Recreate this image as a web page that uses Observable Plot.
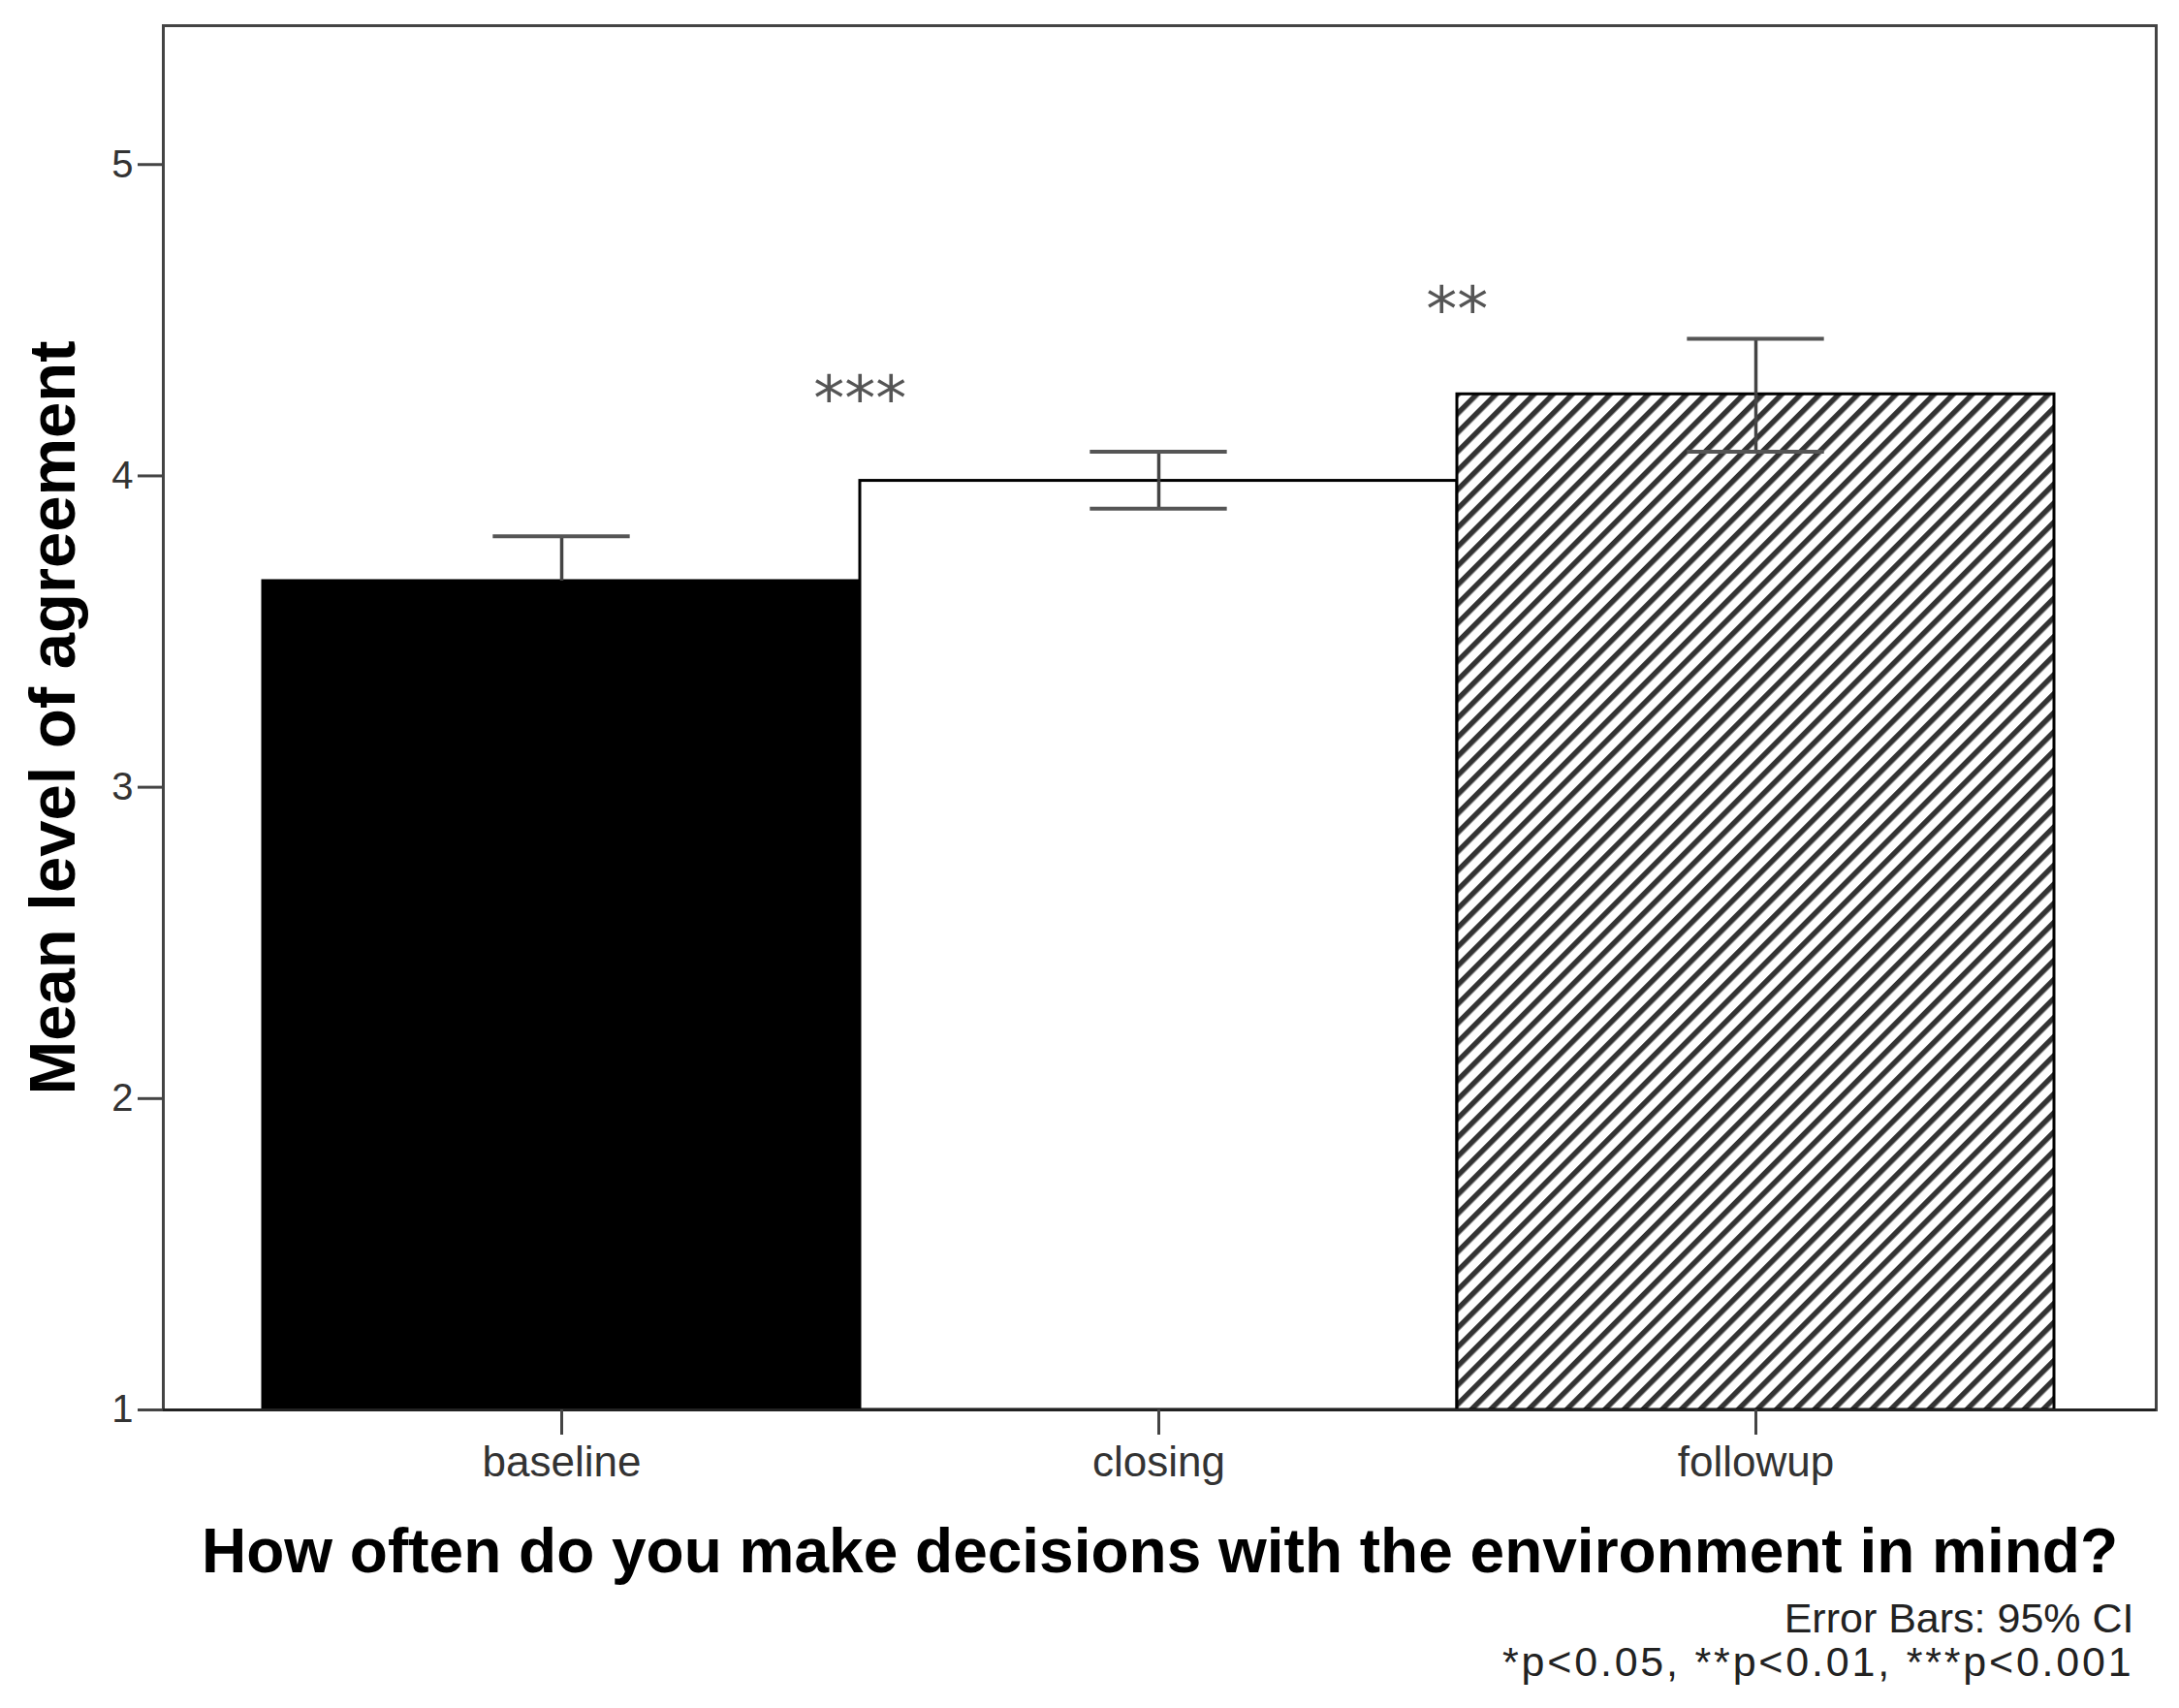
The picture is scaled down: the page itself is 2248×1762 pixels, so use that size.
<!DOCTYPE html>
<html>
<head>
<meta charset="utf-8">
<script src="https://cdn.jsdelivr.net/npm/d3@7"></script>
<script src="https://cdn.jsdelivr.net/npm/@observablehq/plot@0.6"></script>
<style>
  html, body { margin: 0; padding: 0; background: #fff; }
  #chart svg { display: block; }
</style>
</head>
<body>
<div id="chart"></div>
<script>
// ---- data ----
const categories = ["baseline", "closing", "followup"];
const means  = [3.662, 3.984, 4.262];
const ciLow  = [3.52, 3.895, 4.078];
const ciHigh = [3.806, 4.078, 4.44];
const yTicks = [1, 2, 3, 4, 5];
const sigLabels = ["***", "**"];
const sigRightOf = ["closing", "followup"]; // marker sits between this category and the one before it
const sigY = [4.30, 4.585];
const yTitle = "Mean level of agreement";
const xTitle = "How often do you make decisions with the environment in mind?";
const notes = ["Error Bars: 95% CI", "*p<0.05, **p<0.01, ***p<0.001"];

// ---- layout / style ----
const W = 2248, H = 1762;
const mL = 168, mR = 24, mT = 26, mB = 308;
const insL = 102, insR = 104;
const band = (W - mL - mR - insL - insR) / categories.length;
const fills = ["black", "white", "url(#hatch)"];
const darkBars = ["baseline"]; // error-bar parts inside a black bar vanish into it
const FONT = "'Liberation Sans', Arial, sans-serif";
const capInset = band / 2 - 71;

const rows = categories.map((c, i) => ({cat: c, mean: means[i], lo: ciLow[i], hi: ciHigh[i]}));
const lightRows = rows.filter(d => !darkBars.includes(d.cat));
const darkRows = rows.filter(d => darkBars.includes(d.cat));
const sig = sigLabels.map((s, i) => ({label: s, cat: sigRightOf[i], y: sigY[i]}));

const svg = Plot.plot({
  width: W, height: H,
  marginLeft: mL, marginRight: mR, marginTop: mT, marginBottom: mB,
  style: {fontFamily: FONT, background: "white", color: "#222"},
  x: {domain: categories, padding: 0, insetLeft: insL, insetRight: insR, label: null},
  y: {domain: [1, 5.446], label: null},
  color: {domain: categories, range: fills},
  marks: [
    Plot.barY(rows, {x: "cat", y1: 1, y2: "mean", fill: "cat", stroke: "black", strokeWidth: 3}),
    // upper halves of error bars
    Plot.ruleX(rows, {x: "cat", y1: "mean", y2: "hi", stroke: "#444", strokeWidth: 3.5}),
    Plot.tickY(rows, {x: "cat", y: "hi", stroke: "#555", strokeWidth: 4, insetLeft: capInset, insetRight: capInset}),
    // lower halves of error bars
    Plot.ruleX(lightRows, {x: "cat", y1: "lo", y2: "mean", stroke: "#444", strokeWidth: 3.5}),
    Plot.tickY(lightRows, {x: "cat", y: "lo", stroke: "#555", strokeWidth: 4, insetLeft: capInset, insetRight: capInset}),
    Plot.ruleX(darkRows, {x: "cat", y1: "lo", y2: "mean", stroke: "black", strokeWidth: 3.5}),
    Plot.tickY(darkRows, {x: "cat", y: "lo", stroke: "black", strokeWidth: 4, insetLeft: capInset, insetRight: capInset}),
    Plot.frame({stroke: "#444", strokeWidth: 3}),
    Plot.ruleY([1], {stroke: "#222", strokeWidth: 3}),
    Plot.axisY({ticks: yTicks, tickFormat: d => String(d), tickSize: 26, tickPadding: 5, fontSize: 40,
      stroke: "#444", strokeWidth: 3, fill: "#333", label: null}),
    Plot.axisX({tickSize: 26, tickPadding: 11, fontSize: 44, stroke: "#444", strokeWidth: 3, fill: "#333", label: null}),
    Plot.text(sig, {x: "cat", y: "y", text: "label", dx: -band / 2, dy: 38, lineAnchor: "bottom",
      fontSize: 64, fontFamily: "DejaVu Sans", fill: "#555"}),
    Plot.text([yTitle], {text: d => d, frameAnchor: "left", textAnchor: "middle", dx: -113, rotate: -90,
      fontSize: 67, fontWeight: "bold", fill: "black"}),
    Plot.text([xTitle], {text: d => d, frameAnchor: "bottom", textAnchor: "middle", dy: 122, lineAnchor: "top",
      fontSize: 64, fontWeight: "bold", fill: "black"}),
    Plot.text([notes[0]], {text: d => d, frameAnchor: "bottom-right", dx: -23, dy: 199, lineAnchor: "top",
      textAnchor: "end", fontSize: 43, fill: "#222"}),
    Plot.text([notes[1]], {text: d => d, frameAnchor: "bottom-right", dx: -23, dy: 244, lineAnchor: "top",
      textAnchor: "end", fontSize: 43, fill: "#222"})
  ]
});

// hatch pattern for the followup bar
const P = 13.9;
const defs = d3.select(svg).insert("defs", ":first-child");
const pat = defs.append("pattern")
  .attr("id", "hatch")
  .attr("patternUnits", "userSpaceOnUse")
  .attr("width", P).attr("height", P)
  .attr("patternTransform", "rotate(45)");
pat.append("rect").attr("width", P).attr("height", P).attr("fill", "white");
pat.append("rect").attr("x", 0).attr("width", 5.5).attr("height", P).attr("fill", "#333");

// the significance footnote is set wider in the reference
d3.select(svg).selectAll("text").filter(function () { return this.textContent === notes[1]; })
  .attr("letter-spacing", "2.8px");

document.getElementById("chart").appendChild(svg);
</script>
</body>
</html>
